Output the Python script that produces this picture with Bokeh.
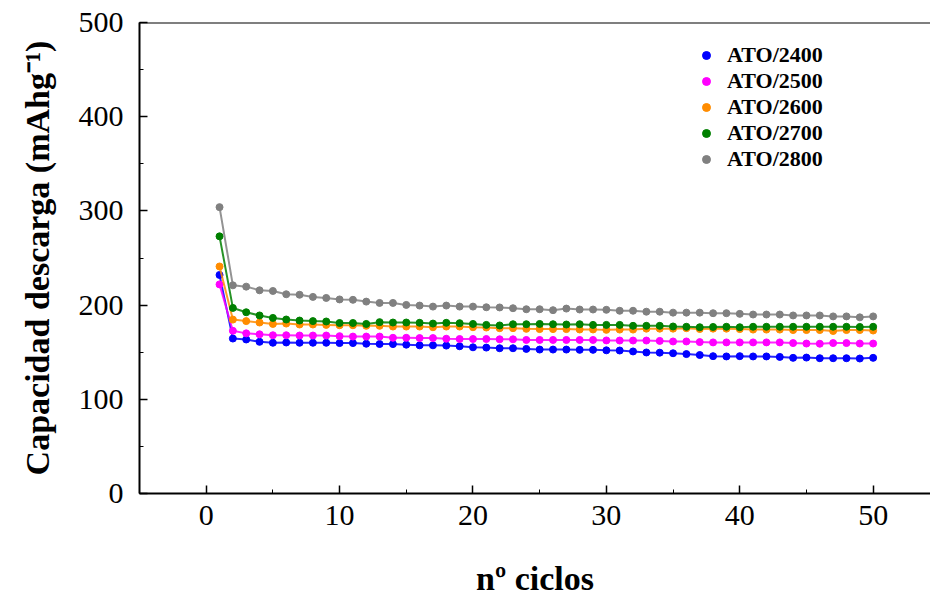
from bokeh.plotting import figure
from bokeh.models import Legend, LegendItem, Span, Range1d, SingleIntervalTicker
from bokeh.embed import file_html
from bokeh.resources import INLINE

cycles = list(range(1, 51))

ato2400 = [232, 164.5, 163.5, 161, 160, 160.3, 160, 160, 160, 159.7,
           159.7, 159, 158.7, 158.6, 158, 157.3, 157.3, 157, 156.3, 155.2,
           154.9, 154.2, 154.2, 153.5, 152.8, 152.8, 152.8, 152.5, 152.5, 152,
           151.8, 150.8, 149.7, 149.5, 148.9, 148, 147, 145.8, 145.5, 145.8,
           145.5, 145.5, 145, 144, 144.3, 143.6, 143.6, 143.6, 143.3, 144]
ato2500 = [222, 172.7, 170, 169, 168, 168, 167.7, 167.7, 167.7, 167,
           166.6, 166.6, 166.6, 165.3, 165.3, 165, 165, 164.3, 164, 164,
           164, 163.7, 163.7, 163, 163, 163, 163, 163, 163, 162.5,
           162.4, 162.4, 162.4, 162, 161.4, 161.4, 160.7, 160.4, 160.4, 160.4,
           160.4, 160.4, 160.4, 159.7, 159.2, 159, 159.7, 159.7, 159.2, 159.2]
ato2600 = [241, 184.6, 183, 181.5, 180, 180.4, 179.4, 179.4, 179, 178.6,
           178.6, 178, 178, 177.2, 177.2, 177.2, 176.5, 177.2, 177.2, 176.5,
           176.2, 175.5, 175.5, 174.8, 174.5, 174.5, 174.5, 174.1, 174.1, 173.7,
           174, 174, 175, 175, 175, 175.5, 174.6, 175, 175, 174.5,
           174, 174, 174, 173.5, 173.5, 173.5, 172.5, 173.5, 173.5, 173]
ato2700 = [273, 197, 192.4, 189, 186.4, 184.7, 183.6, 183, 182.6, 181,
           181, 180, 181.9, 181.5, 181.5, 181.2, 180.4, 181.2, 180.8, 180,
           179, 178.4, 179.7, 179.7, 180, 179.7, 179.4, 179.7, 179, 179,
           179, 178, 178, 178, 177.3, 177, 176.5, 176.8, 177, 176.5,
           177, 177, 177, 177, 177, 177, 177, 177, 176.8, 177]
ato2800 = [304, 221, 219.6, 215.7, 215, 211.5, 211, 208.7, 207.6, 206,
           205.6, 203.7, 202.3, 202.3, 200.2, 199.5, 198.4, 199.5, 198.4, 198.4,
           197.7, 197.5, 196.7, 195.6, 195.6, 194.6, 196.3, 195.3, 195.3, 195,
           194, 194, 193, 193, 192, 192, 192, 191.4, 191.4, 190.7,
           190, 190, 190, 189, 189, 189, 188, 188, 187, 188]

series_names = ["ATO/2400", "ATO/2500", "ATO/2600", "ATO/2700", "ATO/2800"]
series_values = [ato2400, ato2500, ato2600, ato2700, ato2800]
series_colors = ["#0000FF", "#FF00FF", "#FF8C00", "#008000", "#808080"]

x_title = "nº ciclos"
y_title = "Capacidad descarga (mAhg⁻¹)"

SERIF = "'Liberation Serif', 'Times New Roman', Times, serif"

p = figure(width=930, height=599, output_backend="svg", toolbar_location=None,
           x_range=Range1d(-5, 54.3), y_range=Range1d(0, 500),
           min_border_left=139, min_border_right=0, min_border_top=22,
           min_border_bottom=105)
p.outline_line_color = None
p.xgrid.visible = False
p.ygrid.visible = False
p.background_fill_color = "white"
p.border_fill_color = "white"

items = []
for name, vals, col in zip(series_names, series_values, series_colors):
    p.line(cycles, vals, line_color=col, line_width=2, line_alpha=0.85)
    p.scatter(cycles, vals, size=7, fill_color=col, line_color=col)
    # legend-only renderer with a larger marker, as in the reference key
    lr = p.scatter(cycles, vals, size=10, fill_color=col, line_color=col, visible=False)
    items.append(LegendItem(label=name, renderers=[lr]))

top_line = Span(location=500, dimension="width", line_color="black", line_width=2)
p.add_layout(top_line)

for ax in (p.xaxis[0], p.yaxis[0]):
    ax.axis_line_width = 2
    ax.axis_line_color = "black"
    ax.major_tick_in = 8
    ax.major_tick_out = 0
    ax.minor_tick_in = 4
    ax.minor_tick_out = 0
    ax.major_tick_line_width = 1.5
    ax.minor_tick_line_width = 1
    ax.major_label_text_font = SERIF
    ax.major_label_text_font_size = "30px"
    ax.major_label_text_color = "black"
    ax.axis_label_text_font = SERIF
    ax.axis_label_text_font_style = "bold"
    ax.axis_label_text_font_size = "34px"
    ax.axis_label_text_color = "black"

p.xaxis.ticker = SingleIntervalTicker(interval=10, num_minor_ticks=2)
p.yaxis.ticker = SingleIntervalTicker(interval=100, num_minor_ticks=2)
p.xaxis.axis_label = x_title
p.yaxis.axis_label = y_title
p.xaxis.major_label_standoff = 12
p.yaxis.major_label_standoff = 16
p.xaxis.axis_label_standoff = 32
p.yaxis.axis_label_standoff = 20

legend = Legend(items=items, location=(557, 321))
legend.border_line_color = None
legend.background_fill_alpha = 0
legend.label_text_font = SERIF
legend.label_text_font_style = "bold"
legend.label_text_font_size = "22px"
legend.label_text_color = "black"
legend.glyph_width = 20
legend.glyph_height = 22
legend.label_height = 22
legend.label_standoff = 11
legend.spacing = 0
legend.padding = 0
legend.margin = 0
p.add_layout(legend)

open("out.html", "w").write(file_html(p, INLINE))
